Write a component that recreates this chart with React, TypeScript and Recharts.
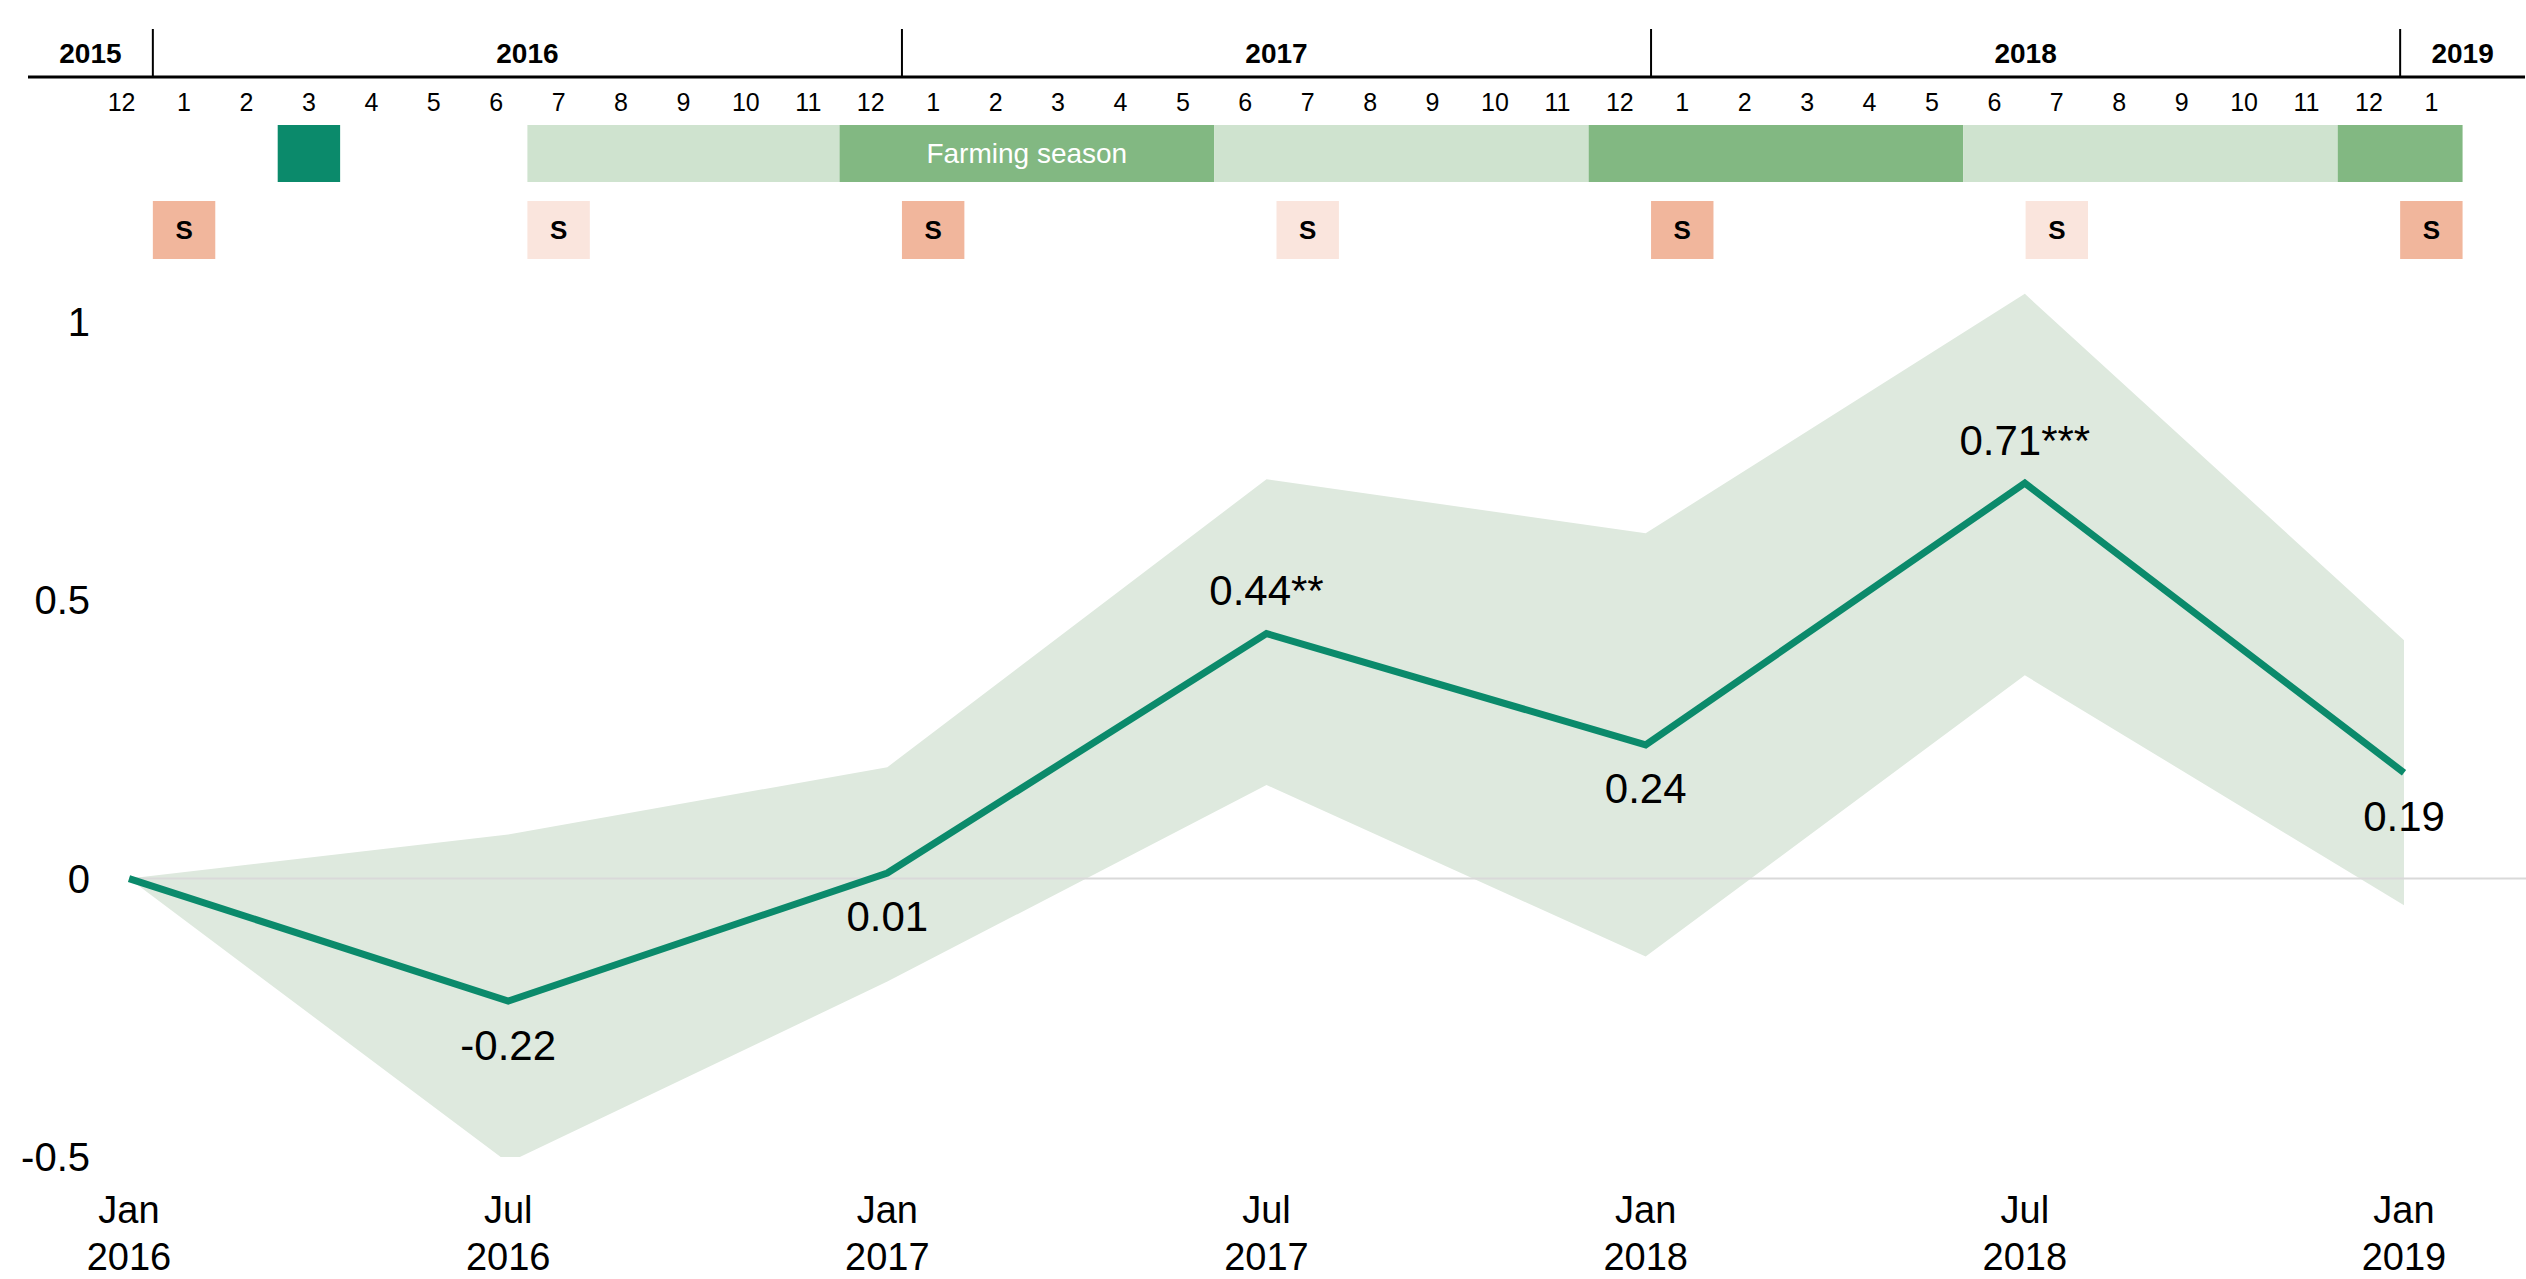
import React from 'react';
import {
  ComposedChart,
  Area,
  Line,
  XAxis,
  YAxis,
  ReferenceLine,
  ReferenceArea,
  LabelList,
} from 'recharts';

// main chart values
const periods = ['Jan 2016', 'Jul 2016', 'Jan 2017', 'Jul 2017', 'Jan 2018', 'Jul 2018', 'Jan 2019'];
const effect = [0, -0.22, 0.01, 0.44, 0.24, 0.71, 0.19];
const ciLow = [0, -0.51, -0.185, 0.168, -0.14, 0.365, -0.048];
const ciHigh = [0, 0.079, 0.2, 0.717, 0.62, 1.05, 0.428];
const stars = ['', '', '', '**', '', '***', ''];
const yTicks = [-0.5, 0, 0.5, 1];

// timeline above the chart
const timelineMonths = [12, 1, 2, 3, 4, 5, 6, 7, 8, 9, 10, 11, 12, 1, 2, 3, 4, 5, 6, 7, 8, 9, 10, 11, 12, 1, 2, 3, 4, 5, 6, 7, 8, 9, 10, 11, 12, 1];
const timelineYears = [2015, 2016, 2017, 2018, 2019];
const seasonStart = ['2016-03', '2016-07', '2016-12', '2017-06', '2017-12', '2018-06', '2018-12'];
const seasonEnd = ['2016-03', '2016-11', '2017-05', '2017-11', '2018-05', '2018-11', '2019-01'];
const seasonKind = ['input', 'off', 'farming', 'off', 'farming', 'off', 'farming'];
const surveyMonths = ['2016-01', '2016-07', '2017-01', '2017-07', '2018-01', '2018-07', '2019-01'];
const surveyKind = ['main', 'mid', 'main', 'mid', 'main', 'mid', 'main'];

const FONT = '"Liberation Sans", Arial, Helvetica, sans-serif';
const TEAL = '#0b8a6b';

const seasonColor: Record<string, string> = {
  input: '#0b8a6b',
  farming: '#82b882',
  off: '#cfe3cf',
};
const surveyColor: Record<string, string> = {
  main: '#f1b69c',
  mid: '#fae5dd',
};

// month index, 0 = Dec 2015
const idx = (ym: string) => {
  const [y, m] = ym.split('-').map(Number);
  return (y - 2016) * 12 + m;
};
const AXIS_START = -1;
const AXIS_END = timelineMonths.length + 1;

const cells = timelineMonths.map((m, k) => ({ k, m }));
const rows = periods.map((p, i) => ({
  period: p,
  effect: effect[i],
  ci: [ciLow[i], ciHigh[i]],
}));

const PeriodTick = (props: any) => {
  const { x, y, payload } = props;
  const [mon, yr] = String(payload.value).split(' ');
  return (
    <g>
      <text x={x} y={y + 53} textAnchor="middle" dominantBaseline="central" fontSize={38} fontFamily={FONT} fill="#000">
        {mon}
      </text>
      <text x={x} y={y + 100} textAnchor="middle" dominantBaseline="central" fontSize={38} fontFamily={FONT} fill="#000">
        {yr}
      </text>
    </g>
  );
};

const PointLabel = (props: any) => {
  const { x, y, index, value } = props;
  if (index === 0) return null;
  const above = stars[index] !== '';
  return (
    <text
      x={x}
      y={above ? y - 43 : y + 44}
      textAnchor="middle"
      dominantBaseline="central"
      fontSize={42}
      fontFamily={FONT}
      fill="#000"
    >
      {Number(value).toFixed(2) + stars[index]}
    </text>
  );
};

function Timeline() {
  return (
    <ComposedChart width={2526} height={262} data={cells} margin={{ top: 0, right: 1, left: 28, bottom: 0 }}>
      <XAxis hide dataKey="k" type="number" domain={[AXIS_START, AXIS_END]} allowDataOverflow />
      <YAxis hide type="number" reversed domain={[0, 262]} allowDataOverflow />
      <ReferenceLine
        segment={[
          { x: AXIS_START, y: 77 },
          { x: AXIS_END, y: 77 },
        ]}
        stroke="#000"
        strokeWidth={3}
      />
      {timelineYears.map((yr) => {
        const from = Math.max(AXIS_START, idx(`${yr}-01`));
        const to = Math.min(AXIS_END, idx(`${yr + 1}-01`));
        return (
          <ReferenceArea
            key={`yr${yr}`}
            x1={from}
            x2={to}
            y1={29}
            y2={77}
            fill="#fff"
            fillOpacity={0}
            stroke="none"
            label={{ value: String(yr), position: 'center', fontSize: 28, fontWeight: 'bold', fill: '#000', fontFamily: FONT }}
          />
        );
      })}
      {timelineYears.slice(1).map((yr) => (
        <ReferenceLine
          key={`sep${yr}`}
          segment={[
            { x: idx(`${yr}-01`), y: 29 },
            { x: idx(`${yr}-01`), y: 77 },
          ]}
          stroke="#000"
          strokeWidth={2}
        />
      ))}
      {cells.map((c) => (
        <ReferenceArea
          key={`m${c.k}`}
          x1={c.k}
          x2={c.k + 1}
          y1={90}
          y2={114}
          fill="#fff"
          fillOpacity={0}
          stroke="none"
          label={{ value: String(c.m), position: 'center', fontSize: 25, fill: '#000', fontFamily: FONT }}
        />
      ))}
      {seasonStart.map((s, i) => (
        <ReferenceArea
          key={`season${i}`}
          x1={idx(s)}
          x2={idx(seasonEnd[i]) + 1}
          y1={125}
          y2={182}
          fill={seasonColor[seasonKind[i]]}
          fillOpacity={1}
          stroke="none"
          label={
            i === 2
              ? { value: 'Farming season', position: 'center', fontSize: 28, fill: '#fff', fontFamily: FONT }
              : undefined
          }
        />
      ))}
      {surveyMonths.map((s, i) => (
        <ReferenceArea
          key={`survey${i}`}
          x1={idx(s)}
          x2={idx(s) + 1}
          y1={201}
          y2={259}
          fill={surveyColor[surveyKind[i]]}
          fillOpacity={1}
          stroke="none"
          label={{ value: 'S', position: 'center', fontSize: 26, fontWeight: 'bold', fill: '#000', fontFamily: FONT }}
        />
      ))}
    </ComposedChart>
  );
}

function EffectChart() {
  return (
    <ComposedChart width={2526} height={1017} data={rows} margin={{ top: 4, right: 0, left: 0, bottom: 0 }}>
      <XAxis
        dataKey="period"
        height={122}
        padding={{ left: 0, right: 122 }}
        axisLine={false}
        tickLine={false}
        tickSize={0}
        tickMargin={0}
        interval={0}
        tick={<PeriodTick />}
      />
      <YAxis
        type="number"
        width={129}
        domain={[-0.5, 1.1]}
        allowDataOverflow
        ticks={yTicks}
        axisLine={false}
        tickLine={false}
        tickSize={0}
        tickMargin={39}
        tick={{ fontSize: 40, fill: '#000', fontFamily: FONT }}
      />
      <Area
        dataKey="ci"
        type="linear"
        stroke="none"
        fill="#dee9de"
        fillOpacity={1}
        isAnimationActive={false}
        activeDot={false}
      />
      <ReferenceLine y={0} stroke="#d9d9d9" strokeWidth={2} />
      <Line
        dataKey="effect"
        type="linear"
        stroke={TEAL}
        strokeWidth={7}
        dot={false}
        activeDot={false}
        isAnimationActive={false}
      >
        <LabelList dataKey="effect" content={<PointLabel />} />
      </Line>
    </ComposedChart>
  );
}

export default function App() {
  return (
    <div style={{ position: 'relative', width: 2526, height: 1279, background: '#fff', fontFamily: FONT }}>
      <style>{'body{margin:0}'}</style>
      <div style={{ position: 'absolute', left: 0, top: 0 }}>
        <Timeline />
      </div>
      <div style={{ position: 'absolute', left: 0, top: 262 }}>
        <EffectChart />
      </div>
    </div>
  );
}
